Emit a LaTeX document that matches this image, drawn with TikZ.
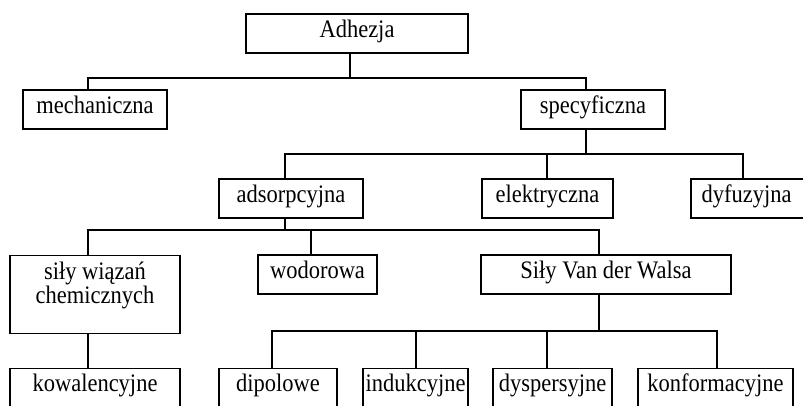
\documentclass[tikz,border=0pt]{standalone}
\usepackage{fontspec}
\setmainfont{Liberation Serif}
\newcommand{\vstr}[1]{\scalebox{1}[1.12]{#1}}
\begin{document}
\begin{tikzpicture}[x=1pt,y=-1pt,
  box/.style={draw,line width=1.3pt,rectangle,inner sep=0pt,minimum height=39pt,
    text height=13.8pt,text depth=6.2pt,
    font=\fontsize{22.5}{25}\selectfont},
  txt/.style={inner sep=0pt,anchor=base,font=\fontsize{22.5}{25}\selectfont},
  conn/.style={line width=1.3pt}]
\useasboundingbox (0,0) rectangle (803,405);
\clip (0,0) rectangle (803,405);
% level 0
\node[box,minimum width=222pt] (A) at (357,33.5) {\vstr{Adhezja}};
% level 1
\node[box,minimum width=144pt] (mech) at (95,109.5) {\vstr{mechaniczna}};
\node[box,minimum width=144pt] (spec) at (593,109.5) {\vstr{specyficzna}};
% level 2
\node[box,minimum width=144pt] (ads) at (291,198.5) {\vstr{adsorpcyjna}};
\node[box,minimum width=131pt] (elek) at (547.5,198.5) {\vstr{elektryczna}};
\node[box,minimum width=130pt] (dyf) at (756,198.5) {};
\node[box,draw=none,minimum width=111pt] (dyft) at (746.5,198.5) {\vstr{dyfuzyjna}};
% level 3
\node[box,minimum width=170pt,minimum height=78pt] (sw) at (95,294.5) {};
\node[txt] (swt1) at (95,279.3) {\vstr{siły wiązań}};
\node[txt] (swt2) at (95,303.3) {\vstr{chemicznych}};
\node[box,minimum width=119pt] (wod) at (317.5,274.5) {\vstr{wodorowa}};
\node[box,minimum width=250pt] (svdw) at (606,274.5) {\vstr{Siły Van der Walsa}};
% level 4
\node[box,minimum width=170pt] (kow) at (95,388) {\vstr{kowalencyjne}};
\node[box,minimum width=118pt] (dip) at (278,388) {\vstr{dipolowe}};
\node[box,minimum width=105pt] (ind) at (415.5,388) {\vstr{indukcyjne}};
\node[box,minimum width=119pt] (dys) at (552.5,388) {\vstr{dyspersyjne}};
\node[box,minimum width=155pt] (konf) at (715.5,388) {\vstr{konformacyjne}};
% bus coordinates
\coordinate (b1) at (350,78);
\coordinate (b2) at (586,154);
\coordinate (b3) at (285,230);
\coordinate (b4) at (599,331);
\coordinate (e2) at (547,154);
\coordinate (w3) at (311,230);
\coordinate (i4) at (416,331);
\coordinate (d4) at (547,331);
% connectors
\draw[conn] (A.south -| b1) -- (b1);
\draw[conn] (mech.north -| 88,0) |- (b1) -| (spec.north -| 586,0);
\draw[conn] (spec.south -| b2) -- (b2);
\draw[conn] (ads.north -| 285,0) |- (b2) -| (dyf.north -| 743,0);
\draw[conn] (elek.north -| e2) -- (e2);
\draw[conn] (ads.south -| b3) -- (b3);
\draw[conn] (sw.north -| 88,0) |- (b3) -| (svdw.north -| 599,0);
\draw[conn] (wod.north -| w3) -- (w3);
\draw[conn] (svdw.south -| b4) -- (b4);
\draw[conn] (dip.north -| 272,0) |- (b4) -| (konf.north -| 717,0);
\draw[conn] (ind.north -| i4) -- (i4);
\draw[conn] (dys.north -| d4) -- (d4);
\draw[conn] (sw.south -| 88,0) -- (kow.north -| 88,0);
\end{tikzpicture}
\end{document}
